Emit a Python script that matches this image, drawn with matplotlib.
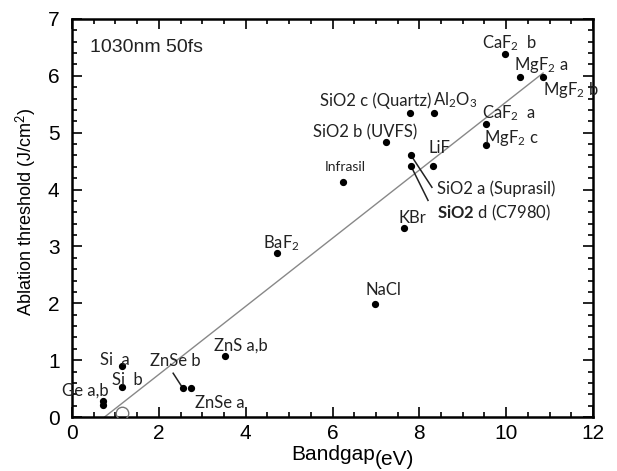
import matplotlib
matplotlib.use("Agg")
import matplotlib.pyplot as plt
from matplotlib.ticker import MultipleLocator

plt.rcParams['font.family'] = 'Liberation Sans'
plt.rcParams['mathtext.fontset'] = 'custom'
plt.rcParams['mathtext.rm'] = 'Lato'
plt.rcParams['mathtext.it'] = 'Lato:italic'
plt.rcParams['mathtext.bf'] = 'Lato:bold'

# valeurs
materials = ["CaF2 b", "MgF2 a", "MgF2 b", "SiO2 c", "Al2O3", "CaF2 a", "MgF2 c",
             "SiO2 b", "SiO2 a", "SiO2 d", "LiF", "Infrasil", "KBr", "NaCl", "BaF2",
             "ZnS a,b", "Si a", "Si b", "Ge a", "Ge b", "ZnSe b", "ZnSe a"]
bandgap = [9.98, 10.32, 10.85, 7.79, 8.34, 9.54, 9.54, 7.24, 7.81, 7.81, 8.32, 6.24,
           7.65, 6.98, 4.72, 3.53, 1.15, 1.15, 0.72, 0.72, 2.55, 2.74]
threshold = [6.38, 5.98, 5.98, 5.34, 5.34, 5.15, 4.78, 4.83, 4.60, 4.41, 4.41, 4.13,
             3.32, 1.99, 2.88, 1.07, 0.90, 0.53, 0.28, 0.22, 0.51, 0.51]

# droite de tendance
fit_x = [0.75, 10.85]
fit_y = [0.0, 6.05]

# cercle ouvert pres de l'axe
open_x = [1.15]
open_y = [0.07]

# etiquettes : texte, x gauche, y centre, taille
labels = [
    ("CaF$_2$  b", 9.45, 6.57, 12),
    ("MgF$_2$ a", 10.18, 6.19, 12),
    ("MgF$_2$ b", 10.85, 5.75, 12),
    ("SiO2 c (Quartz)", 5.71, 5.57, 12),
    ("Al$_2$O$_3$", 8.32, 5.57, 12),
    ("CaF$_2$  a", 9.45, 5.34, 12),
    ("SiO2 b (UVFS)", 5.55, 5.01, 12),
    ("MgF$_2$ c", 9.49, 4.90, 12),
    ("LiF", 8.20, 4.73, 12),
    ("Infrasil", 5.83, 4.39, 10),
    ("SiO2 a (Suprasil)", 8.41, 4.01, 12),
    ("$\\mathbf{SiO2}$ d (C7980)", 8.41, 3.59, 12),
    ("KBr", 7.51, 3.50, 12),
    ("NaCl", 6.75, 2.23, 12),
    ("BaF$_2$", 4.40, 3.06, 12),
    ("ZnS a,b", 3.27, 1.25, 12),
    ("ZnSe b", 1.80, 0.98, 12),
    ("ZnSe a", 2.83, 0.25, 12),
    ("Si  a", 0.65, 1.00, 12),
    ("Si  b", 0.92, 0.65, 12),
    ("Ge a,b", -0.23, 0.47, 12),
]

# traits de rappel : (point) -> (fin)
leaders = [
    ((2.55, 0.51), (2.33, 0.77)),
    ((7.81, 4.60), (8.29, 4.04)),
    ((7.81, 4.41), (8.20, 3.81)),
]

fig = plt.figure(figsize=(6.17, 4.71), dpi=100)
ax = fig.add_axes([0.1167, 0.1146, 0.8444, 0.8451])

ax.plot(fit_x, fit_y, color='#888888', lw=1.0, zorder=1)
ax.plot(bandgap, threshold, 'o', color='black', ms=4.2, zorder=3)
ax.plot(open_x, open_y, 'o', mfc='none', mec='#777777', ms=9, mew=1.0, zorder=3)

for txt, x, y, fs in labels:
    ax.text(x, y, txt, fontsize=fs, family='Lato', color='#222222',
            ha='left', va='center', zorder=4)

for (x0, y0), (x1, y1) in leaders:
    ax.plot([x0, x1], [y0, y1], color='#222222', lw=1.1, zorder=2)

ax.text(0.41, 6.50, "1030nm 50fs", fontsize=14, color='#222222', ha='left', va='center')

ax.set_xlim(0, 12)
ax.set_ylim(0, 7)
ax.xaxis.set_major_locator(MultipleLocator(2))
ax.xaxis.set_minor_locator(MultipleLocator(0.5))
ax.yaxis.set_major_locator(MultipleLocator(1))
ax.yaxis.set_minor_locator(MultipleLocator(0.2))
ax.tick_params(which='both', direction='in', top=True, right=True, width=1.2)
ax.tick_params(which='major', length=7, labelsize=15)
ax.tick_params(which='minor', length=3.5)
ax.tick_params(axis='y', pad=9)
ax.tick_params(axis='x', pad=5)
for s in ax.spines.values():
    s.set_linewidth(1.8)

fig.text(0.043, 0.55, "Ablation threshold (J/cm$^2$)", rotation=90, fontsize=13,
         ha='center', va='center', family='Liberation Sans')
# "(eV)" un peu plus bas que "Bandgap" comme sur l'original
fig.text(0.608, 0.0234, "Bandgap", fontsize=15, ha='right', va='baseline')
fig.text(0.608, 0.0127, "(eV)", fontsize=15, ha='left', va='baseline')

plt.savefig("out.png", dpi=100)
plt.close()
